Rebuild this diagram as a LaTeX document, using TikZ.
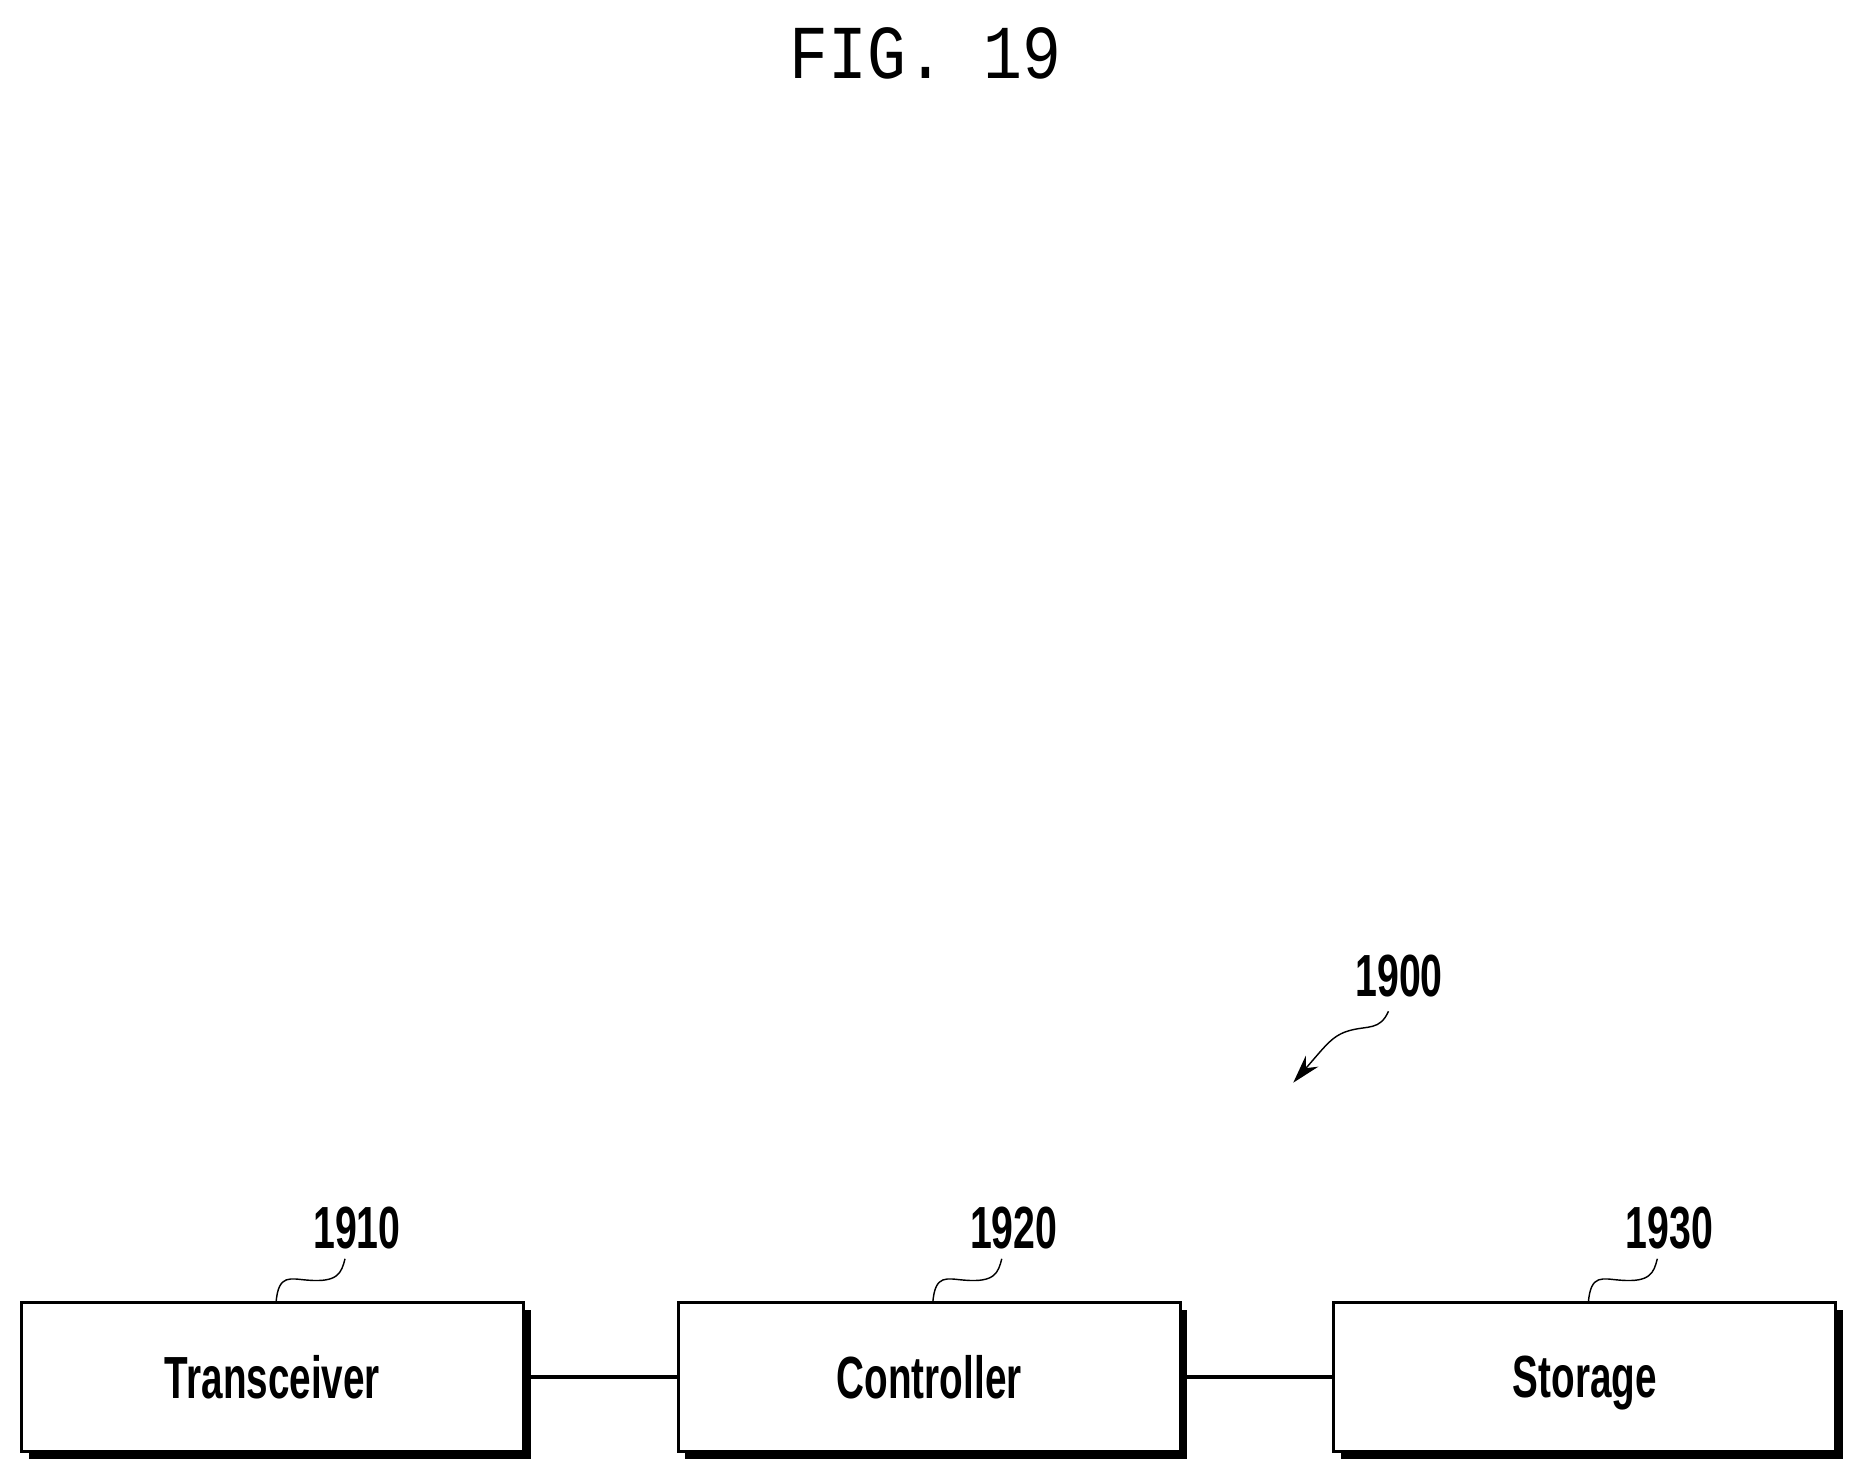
\documentclass[tikz,border=0pt]{standalone}
\usepackage{fontspec}
\setmainfont{Liberation Sans}
\newfontfamily\monof{Liberation Mono}
\usetikzlibrary{arrows.meta}
\tikzset{
  blk/.style={draw, line width=2.5pt, fill=white, minimum width=422pt, minimum height=125pt, inner sep=0pt,
    font=\bfseries\fontsize{50}{50}\selectfont, text depth=0pt},
  num/.style={font=\bfseries\fontsize{50}{50}\selectfont, xscale=0.66},
  lead/.style={line width=1.2pt},
  conn/.style={line width=3pt}
}
\begin{document}
\begin{tikzpicture}[x=1pt,y=-1pt]
\useasboundingbox (0,0) rectangle (1560,1237);
\node[font=\monof\fontsize{64}{64}\selectfont, xscale=0.85] (title) at (778,45) {FIG. 19};
\foreach \n/\x/\t/\l in {a/229/Transceiver/1910, b/781/Controller/1920, c/1332/Storage/1930}{
  \fill (\x-211+6,1095+6) rectangle (\x+211+6,1220+6);
  \node[blk] (\n) at (\x,1157.5) {\scalebox{0.65}[1]{\t}};
  \node[num] (\n l) at (\x+71,1032) {\l};
  \draw[lead] (\x+3,1095) .. controls (\x+5,1070) and (\x+15,1075) .. (\x+30,1076)
     .. controls (\x+55,1078) and (\x+58,1070) .. (\x+61,1058);
}
\draw[conn] (a.east) -- (b.west);
\draw[conn] (b.east) -- (c.west);
\node[num] (sys) at (1176,820) {1900};
\coordinate (tip) at (1087,910);
\draw[lead,-{Stealth[length=24pt,width=14pt]}] (1167,850) .. controls (1160,866) and (1150,862) .. (1135,866)
  .. controls (1120,870) and (1115,878) .. (tip);
\end{tikzpicture}
\end{document}
